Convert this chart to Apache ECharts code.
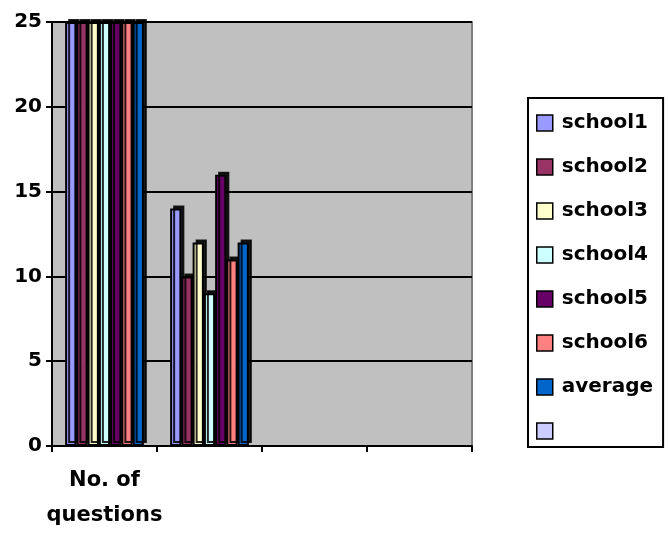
<!DOCTYPE html>
<html>
<head>
<meta charset="utf-8">
<script src="https://cdn.jsdelivr.net/npm/echarts@6/dist/echarts.min.js"></script>
<style>
  html, body { margin: 0; padding: 0; background: #fff; }
  #chart { width: 668px; height: 533px; }
</style>
</head>
<body>
<div id="chart"></div>
<script>
// categories on the x axis (only the first one has a label)
var categories = ['No. of\nquestions', '', '', ''];

// series names and values per category
var seriesNames = ['school1', 'school2', 'school3', 'school4', 'school5', 'school6', 'average', ' '];
var school1 = [25, 14];
var school2 = [25, 10];
var school3 = [25, 12];
var school4 = [25, 9];
var school5 = [25, 16];
var school6 = [25, 11];
var average = [25, 12];
var blank = [];

var seriesData = [school1, school2, school3, school4, school5, school6, average, blank];
var colors = ['#9999ff', '#993366', '#ffffcc', '#ccffff', '#660066', '#ff8080', '#0066cc', '#ccccff'];

var yTicks = { min: 0, max: 25, interval: 5 };

var font = 'DejaVu Sans';

var chart = echarts.init(document.getElementById('chart'));

var series = [];
for (var i = 0; i < seriesNames.length; i++) {
    var s = {
        name: seriesNames[i],
        type: 'bar',
        data: seriesData[i],
        barGap: '0%',
        barCategoryGap: '25%',
        itemStyle: {
            color: colors[i],
            borderColor: '#000',
            borderWidth: 2,
            shadowColor: 'rgba(0,0,0,0.85)',   // fake 3d side
            shadowBlur: 0,
            shadowOffsetX: 3,
            shadowOffsetY: -3
        }
    };
    // the empty last series and "average" share one slot so it takes no room
    if (i >= 6) s.stack = 'last';
    series.push(s);
}

var option = {
    animation: false,
    color: colors,
    textStyle: { fontFamily: font },
    grid: {
        left: 52,
        right: 196,
        top: 22,
        bottom: 81,
        show: true,
        backgroundColor: '#c0c0c0',
        borderColor: '#808080',
        borderWidth: 2
    },
    legend: {
        orient: 'vertical',
        left: 528,
        top: 98,
        padding: [13, 10, 4, 8],
        itemGap: 20,
        itemWidth: 16,
        itemHeight: 16,
        borderColor: '#000',
        borderWidth: 2,
        backgroundColor: '#fff',
        icon: 'rect',
        itemStyle: {
            borderColor: '#000',
            borderWidth: 1.5,
            shadowColor: 'transparent',
            shadowOffsetX: 0,
            shadowOffsetY: 0
        },
        textStyle: {
            fontFamily: font,
            fontWeight: 'bold',
            fontSize: 20,
            color: '#000',
            lineHeight: 24,
            padding: [0, 0, 0, 4]
        },
        data: seriesNames
    },
    xAxis: {
        type: 'category',
        data: categories,
        axisLine: { lineStyle: { color: '#000', width: 2 } },
        axisTick: { show: true, length: 6, lineStyle: { color: '#000', width: 2 } },
        axisLabel: {
            color: '#000',
            fontFamily: font,
            fontWeight: 'bold',
            fontSize: 21,
            lineHeight: 35,
            margin: 17,
            interval: 0
        },
        splitLine: { show: false }
    },
    yAxis: {
        type: 'value',
        min: yTicks.min,
        max: yTicks.max,
        interval: yTicks.interval,
        axisLine: { show: true, lineStyle: { color: '#000', width: 2 } },
        axisTick: { show: true, length: 6, lineStyle: { color: '#000', width: 2 } },
        axisLabel: {
            color: '#000',
            fontFamily: font,
            fontWeight: 'bold',
            fontSize: 20,
            margin: 10
        },
        splitLine: { show: true, lineStyle: { color: '#000', width: 2 } }
    },
    series: series
};

chart.setOption(option);
</script>
</body>
</html>
